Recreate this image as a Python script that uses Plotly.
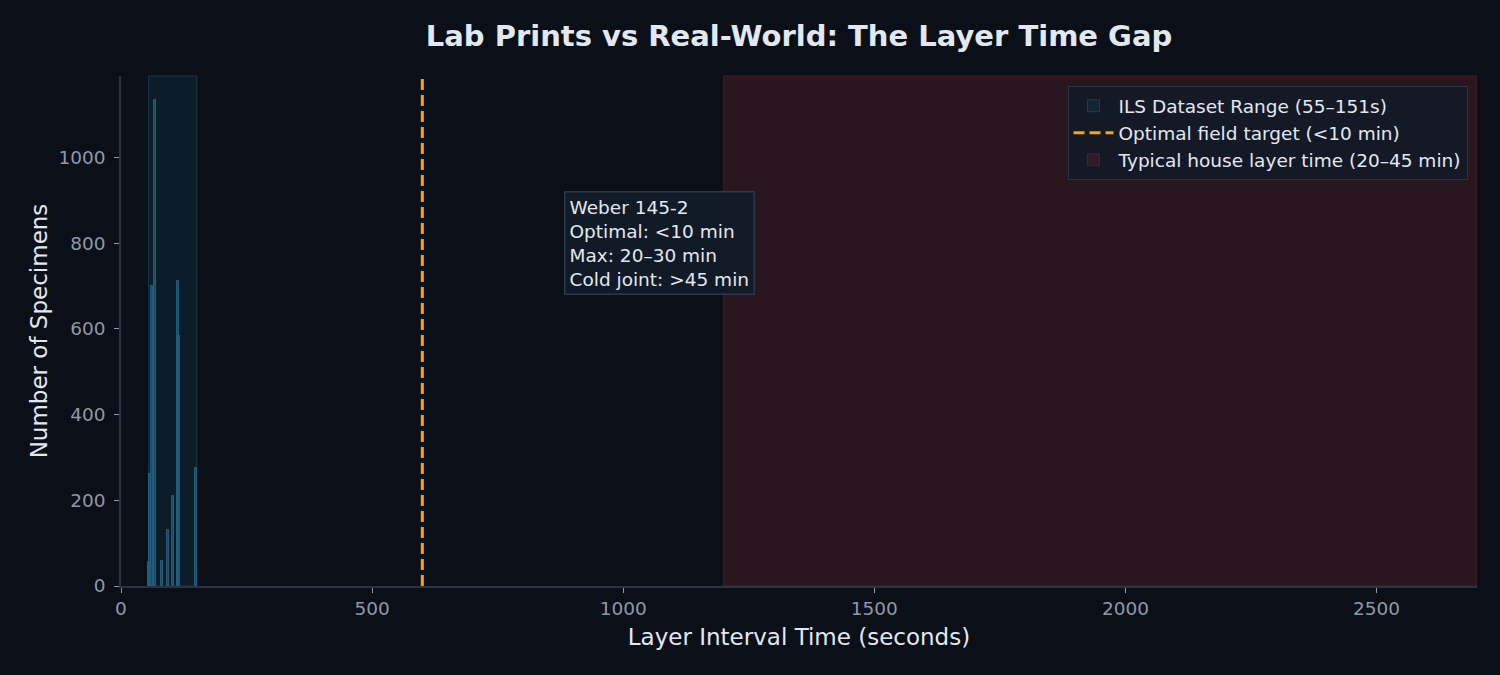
import plotly.graph_objects as go

# layer interval histogram (seconds -> specimen count)
interval_s = [55, 58, 61, 68, 81, 94, 103, 113, 116, 150]
specimens = [57, 262, 700, 1133, 58, 130, 209, 711, 583, 275]

ils_range = [55, 151]
optimal_target = 600
house_range = [1200, 2700]

x_ticks = [0, 500, 1000, 1500, 2000, 2500]
y_ticks = [0, 200, 400, 600, 800, 1000]

note_lines = ["Weber 145-2", "Optimal: <10 min", "Max: 20\u201330 min", "Cold joint: >45 min"]

BG = "#0b0f17"
TXT = "#e2e8f0"
TICK = "#8e99a8"
SPINE = "#2b3242"
FONT = "DejaVu Sans"

fig = go.Figure()

fig.add_trace(go.Bar(
    x=interval_s, y=specimens,
    width=4,
    marker=dict(color="rgba(30,88,118,0.8)", line=dict(color="rgba(36,100,132,0.85)", width=1)),
    showlegend=False, hoverinfo="x+y",
))

# shaded regions + target line, shown in legend
fig.add_shape(type="rect", xref="x", yref="paper",
              x0=ils_range[0], x1=ils_range[1], y0=0, y1=1,
              fillcolor="rgba(20,100,130,0.16)", line=dict(color="rgba(30,100,130,0.45)", width=1),
              layer="below", showlegend=True, legendrank=1,
              name="ILS Dataset Range (55\u2013151s)")
fig.add_shape(type="line", xref="x", yref="paper",
              x0=optimal_target, x1=optimal_target, y0=0, y1=1,
              line=dict(color="#ff9f0a", width=3, dash="11px,5px"),
              showlegend=True, legendrank=2,
              name="Optimal field target (<10 min)")
fig.add_shape(type="rect", xref="x", yref="paper",
              x0=house_range[0], x1=house_range[1], y0=0, y1=1,
              fillcolor="rgba(105,35,45,0.33)", line=dict(color="rgba(120,40,50,0.5)", width=1),
              layer="below", showlegend=True, legendrank=3,
              name="Typical house layer time (20\u201345 min)")

fig.add_annotation(
    x=882, y=922, xref="x", yref="y", xanchor="left", yanchor="top",
    text="<br>".join(note_lines), showarrow=False, align="left",
    font=dict(family=FONT, size=18.5, color=TXT),
    bgcolor="rgba(18,27,40,0.95)", bordercolor="#2a3a4c", borderwidth=1.5, borderpad=4,
)

fig.update_layout(
    width=1500, height=675,
    paper_bgcolor=BG, plot_bgcolor=BG,
    margin=dict(l=121, r=23, t=76, b=89),
    title=dict(text="<b>Lab Prints vs Real-World: The Layer Time Gap</b>",
               xref="paper", x=0.5, xanchor="center", y=0.947, yanchor="middle",
               font=dict(family=FONT, size=29, color=TXT)),
    font=dict(family=FONT, color=TXT),
    bargap=0,
    legend=dict(x=0.993, y=0.98, xanchor="right", yanchor="top",
                bgcolor="rgba(19,25,39,0.95)", bordercolor="#2a3344", borderwidth=1,
                font=dict(family=FONT, size=18.5, color=TXT),
                itemwidth=40, tracegroupgap=0),
)

fig.update_xaxes(
    range=[0, 2700], tickvals=x_ticks, showgrid=False, zeroline=False,
    showline=True, linecolor=SPINE, linewidth=1.5,
    ticks="outside", ticklen=5, tickcolor=TICK,
    tickfont=dict(family=FONT, size=18.5, color=TICK),
    title=dict(text="Layer Interval Time (seconds)", font=dict(family=FONT, size=23, color=TXT), standoff=11),
)
fig.update_yaxes(
    range=[0, 1190], tickvals=y_ticks, showgrid=False, zeroline=False,
    showline=True, linecolor=SPINE, linewidth=1.5,
    ticks="outside", ticklen=5, tickcolor=TICK, ticklabelstandoff=5,
    tickfont=dict(family=FONT, size=18.5, color=TICK),
    title=dict(text="Number of Specimens", font=dict(family=FONT, size=23, color=TXT), standoff=4),
)

fig.write_html("out.html", config={"displayModeBar": False},
               post_script="document.body.style.margin='0';")
